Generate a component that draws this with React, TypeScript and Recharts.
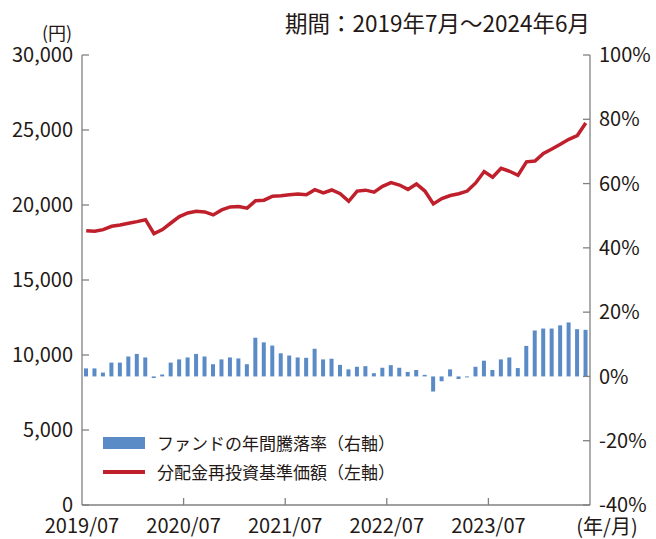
import React from 'react';
import { ComposedChart, Bar, Line, XAxis, YAxis } from 'recharts';

const months: string[] = [
  '2019/07','2019/08','2019/09','2019/10','2019/11','2019/12',
  '2020/01','2020/02','2020/03','2020/04','2020/05','2020/06',
  '2020/07','2020/08','2020/09','2020/10','2020/11','2020/12',
  '2021/01','2021/02','2021/03','2021/04','2021/05','2021/06',
  '2021/07','2021/08','2021/09','2021/10','2021/11','2021/12',
  '2022/01','2022/02','2022/03','2022/04','2022/05','2022/06',
  '2022/07','2022/08','2022/09','2022/10','2022/11','2022/12',
  '2023/01','2023/02','2023/03','2023/04','2023/05','2023/06',
  '2023/07','2023/08','2023/09','2023/10','2023/11','2023/12',
  '2024/01','2024/02','2024/03','2024/04','2024/05','2024/06',
];

// 分配金再投資基準価額 (円, left axis)
const navValues: number[] = [
  18290, 18250, 18360, 18580, 18670, 18780, 18890, 19020, 18090, 18360,
  18800, 19230, 19470, 19580, 19540, 19340, 19670, 19870, 19900, 19790,
  20280, 20320, 20590, 20610, 20680, 20730, 20680, 21020, 20800, 21000,
  20750, 20250, 20930, 20990, 20860, 21240, 21490, 21330, 21040, 21400,
  20930, 20070, 20430, 20630, 20750, 20930, 21470, 22230, 21850, 22450,
  22250, 21980, 22880, 22930, 23440, 23730, 24050, 24380, 24630, 25460,
];

// ファンドの年間騰落率 (%, right axis)
const annualReturns: number[] = [
  2.5, 2.5, 1.2, 4.3, 4.3, 6.2, 7.0, 5.9, -0.5, 0.6,
  4.3, 5.3, 5.9, 7.0, 6.2, 3.8, 5.3, 5.9, 5.6, 3.8,
  12.0, 10.6, 9.6, 7.2, 6.5, 5.9, 5.8, 8.6, 5.3, 5.5,
  3.6, 2.2, 3.0, 3.2, 1.0, 2.7, 3.5, 2.7, 1.4, 2.0,
  0.5, -4.7, -1.5, 2.2, -0.8, -0.3, 3.0, 4.9, 2.0, 5.3,
  5.9, 2.6, 9.5, 14.3, 14.9, 14.9, 15.9, 16.8, 14.7, 14.5,
];

const leftTicks: number[] = [0, 5000, 10000, 15000, 20000, 25000, 30000];
const rightTicks: number[] = [-40, -20, 0, 20, 40, 60, 80, 100];
const xTickLabels: string[] = ['2019/07', '2020/07', '2021/07', '2022/07', '2023/07'];
const xUnitLabel = '(年/月)';
const yUnitLabel = '(円)';
const titleText = '期間：2019年7月～2024年6月';
const legendBarLabel = 'ファンドの年間騰落率（右軸）';
const legendLineLabel = '分配金再投資基準価額（左軸）';

const data = months.map((m, i) => ({ month: m, nav: navValues[i], ret: annualReturns[i] }));

const W = 656;
const H = 539;
const LEFT_W = 82;
const RIGHT_W = 66;
const X_H = 34;
const TOP = 55;
const PLOT_W = W - LEFT_W - RIGHT_W;
const BW = PLOT_W / months.length;
const FONT = '"Noto Sans CJK JP", "Noto Sans", sans-serif';
const AXIS_COLOR = '#808080';
const TEXT_COLOR = '#231815';
const BAR_COLOR = '#5b8bc7';
const LINE_COLOR = '#c0202b';
const TICK_FS = 20;

const XTick = (props: any) => {
  const { x, y, index, payload } = props;
  const idx = typeof index === 'number' ? index : months.indexOf(payload?.value);
  const items: React.ReactNode[] = [];
  if (idx % 12 === 0) {
    const bx = x - BW / 2;
    const label = xTickLabels[idx / 12];
    if (idx > 0) {
      items.push(<line key="l" x1={bx} x2={bx} y1={y} y2={y - 7} stroke={AXIS_COLOR} strokeWidth={1.3} />);
    }
    items.push(
      <text key="t" x={bx} y={y + 28} textAnchor="middle" fontSize={TICK_FS} fill={TEXT_COLOR} fontFamily={FONT}>
        {label}
      </text>
    );
  }
  if (idx === months.length - 1) {
    items.push(
      <text key="u" x={x + BW / 2 + 17} y={y + 29} textAnchor="middle" fontSize={TICK_FS} fill={TEXT_COLOR} fontFamily={FONT}>
        {xUnitLabel}
      </text>
    );
  }
  return <g>{items}</g>;
};

const LeftTick = (props: any) => {
  const { x, y, payload } = props;
  const v = Number(payload.value);
  return (
    <g>
      <line x1={x} x2={x + 7} y1={y} y2={y} stroke={AXIS_COLOR} strokeWidth={1.3} />
      <text x={x - 9} y={y} dy="0.36em" textAnchor="end" fontSize={TICK_FS} fill={TEXT_COLOR} fontFamily={FONT}>
        {v.toLocaleString('en-US')}
      </text>
    </g>
  );
};

const RightTick = (props: any) => {
  const { x, y, payload } = props;
  const v = Number(payload.value);
  return (
    <g>
      <line x1={x - 7} x2={x} y1={y} y2={y} stroke={AXIS_COLOR} strokeWidth={1.3} />
      <text x={x + 9} y={y} dy="0.36em" textAnchor="start" fontSize={TICK_FS} fill={TEXT_COLOR} fontFamily={FONT}>
        {`${v}%`}
      </text>
    </g>
  );
};

export default function App() {
  return (
    <div style={{ position: 'absolute', left: 0, top: 0, width: W, height: H, background: '#fff', fontFamily: FONT, color: TEXT_COLOR }}>
      <ComposedChart
        width={W}
        height={H}
        data={data}
        margin={{ top: TOP, right: 0, left: 0, bottom: 0 }}
        barCategoryGap={0}
      >
        <XAxis
          dataKey="month"
          xAxisId={0}
          height={X_H}
          interval={0}
          tickSize={0}
          tickMargin={0}
          tickLine={false}
          tick={<XTick />}
          axisLine={{ stroke: AXIS_COLOR, strokeWidth: 1.3 }}
        />
        <YAxis
          yAxisId="left"
          orientation="left"
          width={LEFT_W}
          domain={[0, 30000]}
          ticks={leftTicks}
          interval={0}
          tickSize={0}
          tickMargin={0}
          tickLine={false}
          tick={<LeftTick />}
          axisLine={{ stroke: AXIS_COLOR, strokeWidth: 1.3 }}
          allowDataOverflow
        />
        <YAxis
          yAxisId="right"
          orientation="right"
          width={RIGHT_W}
          domain={[-40, 100]}
          ticks={rightTicks}
          interval={0}
          tickSize={0}
          tickMargin={0}
          tickLine={false}
          tick={<RightTick />}
          axisLine={{ stroke: AXIS_COLOR, strokeWidth: 1.3 }}
          allowDataOverflow
        />
        <Bar yAxisId="right" dataKey="ret" fill={BAR_COLOR} barSize={4} isAnimationActive={false} />
        <Line
          yAxisId="left"
          dataKey="nav"
          type="linear"
          stroke={LINE_COLOR}
          strokeWidth={3.5}
          dot={false}
          activeDot={false}
          isAnimationActive={false}
        />
      </ComposedChart>

      <div style={{ position: 'absolute', right: W - 590, top: 8, fontSize: 22.5, lineHeight: '28px', whiteSpace: 'nowrap' }}>
        {titleText}
      </div>
      <div style={{ position: 'absolute', left: 57 - 30, width: 60, top: 23, textAlign: 'center', fontSize: 18, lineHeight: '18px' }}>
        {yUnitLabel}
      </div>

      <div style={{ position: 'absolute', left: 103, top: 437, width: 42, height: 12, background: BAR_COLOR }} />
      <div style={{ position: 'absolute', left: 157, top: 431, fontSize: 17, lineHeight: '24px', whiteSpace: 'nowrap' }}>
        {legendBarLabel}
      </div>
      <div style={{ position: 'absolute', left: 103, top: 470, width: 42, height: 3.5, background: LINE_COLOR }} />
      <div style={{ position: 'absolute', left: 157, top: 460, fontSize: 17, lineHeight: '24px', whiteSpace: 'nowrap' }}>
        {legendLineLabel}
      </div>
    </div>
  );
}
